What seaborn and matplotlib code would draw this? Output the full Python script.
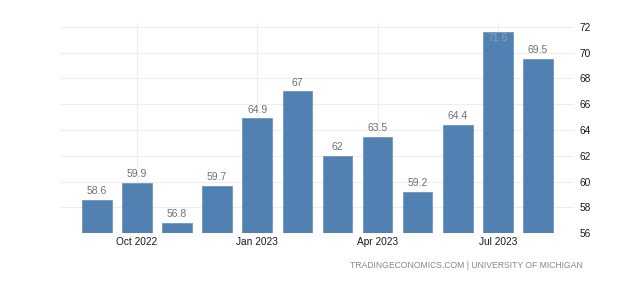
import matplotlib
matplotlib.use("Agg")
import matplotlib.pyplot as plt
import seaborn as sns
import pandas as pd

months = ["Sep 2022", "Oct 2022", "Nov 2022", "Dec 2022", "Jan 2023", "Feb 2023",
          "Mar 2023", "Apr 2023", "May 2023", "Jun 2023", "Jul 2023", "Aug 2023"]
values = [58.6, 59.9, 56.8, 59.7, 64.9, 67.0, 62.0, 63.5, 59.2, 64.4, 71.6, 69.5]
value_labels = ["58.6", "59.9", "56.8", "59.7", "64.9", "67", "62", "63.5", "59.2", "64.4", "71.6", "69.5"]
tick_labels = ["Oct 2022", "Jan 2023", "Apr 2023", "Jul 2023"]
y_ticks = [56, 58, 60, 62, 64, 66, 68, 70, 72]
source = "TRADINGECONOMICS.COM | UNIVERSITY OF MICHIGAN"

sns.set_theme(style="white")
plt.rcParams['font.family'] = ['Liberation Sans', 'DejaVu Sans']

df = pd.DataFrame({"month": months, "value": values})

fig = plt.figure(figsize=(6.4, 2.81), dpi=100)
ax = fig.add_axes([60/640, 1 - 233.3/281, (574-60)/640, (233.3-23)/281])

ymin, ymax = 56, 72.3
sns.barplot(data=df, x="month", y="value", order=months, color="#5181b2",
            width=0.74, saturation=1, ax=ax, edgecolor="#6f97c0", linewidth=0.6)
for p in ax.patches:
    h = p.get_height()
    p.set_y(ymin)
    p.set_height(h - ymin)

ax.set_ylim(ymin, ymax)
ax.set_xlim(-0.92, 11.9)

for i, (v, lab) in enumerate(zip(values, value_labels)):
    if v + 0.9 > ymax:
        ax.text(i, v - 0.5, lab, ha="center", va="center", fontsize=7.5, color="#8c9fb8")
    else:
        ax.text(i, v + 0.68, lab, ha="center", va="center", fontsize=7.5, color="#707070")

tick_pos = [months.index(t) for t in tick_labels]
ax.set_xticks(tick_pos)
ax.set_xticklabels(tick_labels, fontsize=7.3, color="#1a1a1a")
ax.set_xlabel("")
ax.set_ylabel("")
ax.yaxis.tick_right()
ax.set_yticks(y_ticks)
ax.set_yticklabels([str(t) for t in y_ticks], fontsize=7.3, color="#1a1a1a")
ax.tick_params(axis="both", length=0)
ax.tick_params(axis="y", pad=4)
ax.tick_params(axis="x", pad=2.5)
ax.grid(True, color="#eeeeee", linewidth=0.8)
ax.set_axisbelow(True)
for s in ax.spines.values():
    s.set_visible(False)

fig.text(583/640, 1 - 265/281, source, ha="right", va="center",
         fontsize=6.2, color="#888888")

fig.savefig("out.png", dpi=100, facecolor="white")
